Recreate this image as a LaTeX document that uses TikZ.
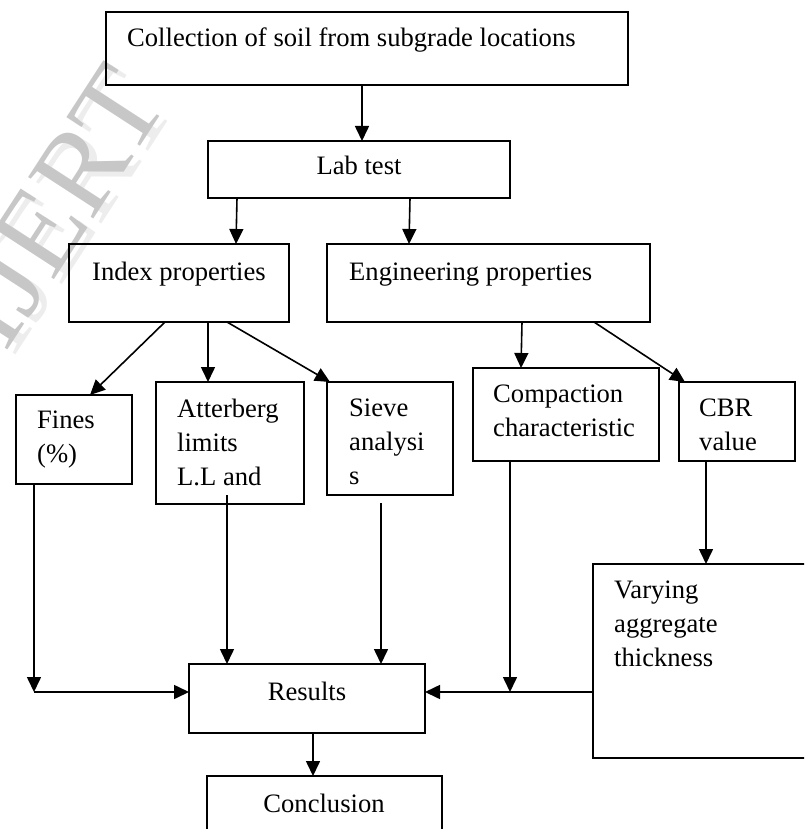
\documentclass[tikz,border=0pt]{standalone}
\usepackage{fontspec}
\setmainfont{Liberation Serif}
\usetikzlibrary{calc}
\usetikzlibrary{arrows.meta}

\begin{document}
\begin{tikzpicture}[x=1pt,y=-1pt,font=\fontsize{26.6}{34}\selectfont,
    box/.style = {draw, line width=1.4pt, anchor=north west, inner sep=0pt, outer sep=0pt},
    txt/.style = {anchor=north west, inner sep=0pt, align=left},
    ctxt/.style = {anchor=base, inner sep=0pt},
    wmark/.style = {rotate=57, font=\fontsize{118}{118}\selectfont},
    arr/.style = {-{Triangle[width=14pt,length=15pt]}, line width=1.6pt}]
\useasboundingbox (0,0) rectangle (804,829);
\clip (0,0) rectangle (804,829);
\node[wmark, text=black!7] (wm-s) at (64,212) {IJERT};
\node[wmark, text=black!22] (wm) at (56,207) {IJERT};
\node[box, minimum width=522, minimum height=73] (coll) at (106,12) {};
\node[box, minimum width=302, minimum height=57] (lab) at (208,141) {};
\node[box, minimum width=220, minimum height=78] (index) at (69,244) {};
\node[box, minimum width=323, minimum height=78] (eng) at (327,244) {};
\node[box, minimum width=116, minimum height=89] (fines) at (16,395) {};
\node[box, minimum width=148, minimum height=122] (atter) at (156,382) {};
\node[box, minimum width=126, minimum height=113] (sieve) at (327,382) {};
\node[box, minimum width=186, minimum height=93] (compac) at (473,368) {};
\node[box, minimum width=116, minimum height=79] (cbr) at (679,382) {};
\node[box, minimum width=240, minimum height=194] (vary) at (593,564) {};
\node[box, minimum width=236, minimum height=69] (results) at (189,664) {};
\node[box, minimum width=235, minimum height=80] (concl) at (207,776) {};
\node[anchor=base west, inner sep=0pt] (coll-t) at (127,47) {Collection of soil from subgrade locations};
\node[ctxt] (lab-t) at (359,175) {Lab test};
\node[anchor=base west, inner sep=0pt] (index-t) at (92,280) {Index properties};
\node[anchor=base west, inner sep=0pt] (eng-t) at (349,280) {Engineering properties};
\node[txt] (fines-t) at (37,411) {Fines\\(\%)};
\node[txt] (atter-t) at (177,399) {Atterberg\\limits\\L.L and};
\node[txt] (sieve-t) at (349,399) {Sieve\\analysi\\s};
\node[txt] (compac-t) at (493,385) {Compaction\\characteristic};
\node[txt] (cbr-t) at (699,399) {CBR\\value};
\node[txt] (vary-t) at (614,581) {Varying\\aggregate\\thickness};
\node[ctxt] (results-t) at (307,700) {Results};
\node[ctxt] (concl-t) at (324,812) {Conclusion};
\coordinate (fcorner) at (34,692);
\coordinate (ccorner) at (510,692);
\draw[arr] ([xshift=-5]coll.south) -- ([xshift=3]lab.north);
\draw[arr] ([xshift=29]lab.south west) -- ([xshift=167]index.north west);
\draw[arr] ([xshift=202]lab.south west) -- ([xshift=82]eng.north west);
\draw[arr] ([xshift=96]index.south west) -- ([xshift=74]fines.north west);
\draw[arr] ([xshift=139]index.south west) -- ([xshift=52]atter.north west);
\draw[arr] ([xshift=158]index.south west) -- ([xshift=3]sieve.north west);
\draw[arr] ([xshift=195]eng.south west) -- ([xshift=48]compac.north west);
\draw[arr] ([xshift=267]eng.south west) -- ([xshift=6]cbr.north west);
\draw[arr] ([xshift=27]cbr.south west) -- ([xshift=113]vary.north west);
\draw[arr] ([xshift=18]fines.south west) -- (fcorner);
\draw[arr] (fcorner) -- ([yshift=6.5]results.west);
\draw[arr] ([xshift=71,yshift=9]atter.south west) -- ([xshift=38]results.north west);
\draw[arr] ([xshift=54,yshift=-8]sieve.south west) -- ([xshift=192]results.north west);
\draw[arr] ([xshift=37]compac.south west) -- (ccorner);
\draw[arr] (vary.west |- ccorner) -- ([yshift=6.5]results.east);
\draw[arr] ([xshift=124]results.south west) -- ([xshift=106]concl.north west);
\end{tikzpicture}
\end{document}
